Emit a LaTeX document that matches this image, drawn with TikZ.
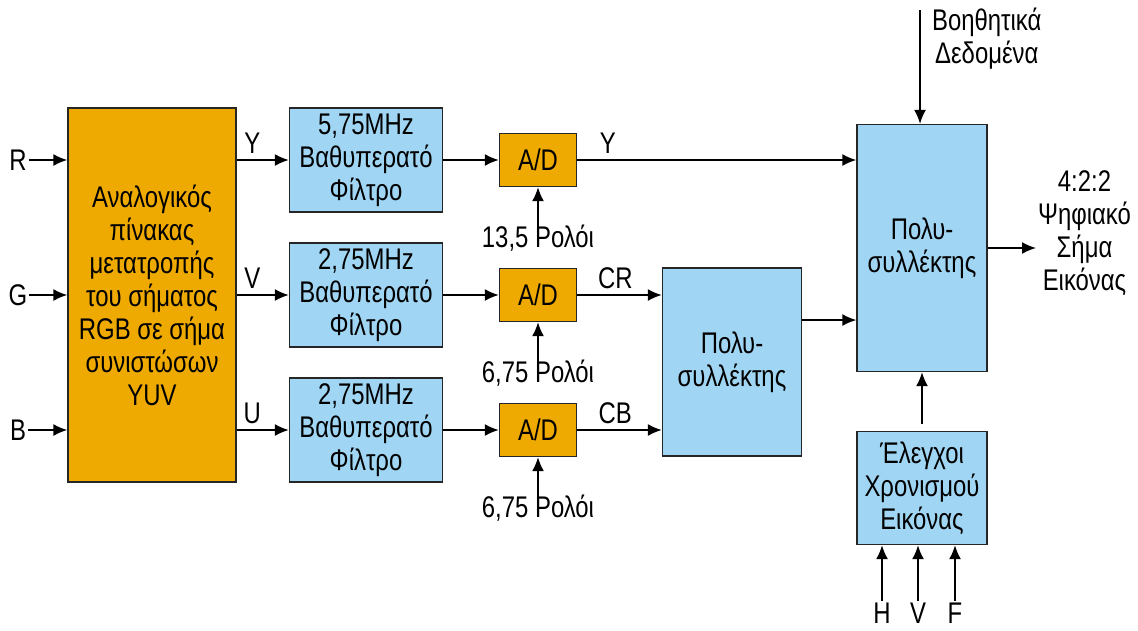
\documentclass[tikz,border=0pt]{standalone}
\usepackage{fontspec}
\setmainfont[FakeStretch=0.8]{Liberation Sans}
\usepackage{xcolor}
\usetikzlibrary{arrows.meta,positioning,calc}
\definecolor{adorange}{RGB}{238,170,0}
\definecolor{muxblue}{RGB}{160,214,244}

\begin{document}
\begin{tikzpicture}[
    x=0.02cm, y=-0.02cm,
    font=\fontsize{17}{18.8}\selectfont,
    orangebox/.style={draw=black!85, line width=0.8pt, fill=adorange, align=center, inner sep=1pt},
    bluebox/.style={draw=black!85, line width=0.8pt, fill=muxblue, align=center, inner sep=1pt},
    arrow/.style={-{Latex[length=2.8mm, width=2.4mm]}, line width=0.9pt},
    lbl/.style={inner sep=1pt, align=center}
  ]
    \useasboundingbox (0,0) rectangle (1138,630);
    \node[orangebox, minimum width=3.36cm, minimum height=7.48cm] (conv) at (152,295)
      {Αναλογικός\\πίνακας\\μετατροπής\\του σήματος\\RGB σε σήμα\\συνιστώσων\\YUV};
    \foreach \i/\y/\c/\s/\f/\k in {1/160/R/Y/{5,75MHz}/{13,5},2/295/G/V/{2,75MHz}/{6,75},3/430/B/U/{2,75MHz}/{6,75}} {
      \node[lbl] (in\i) at (18,\y) {\c};
      \draw[arrow] (in\i.east) -- (in\i -| conv.west);
      \node[bluebox, minimum width=3.06cm, minimum height=2.08cm] (f\i) at (366,\y)
        {\f\\Βαθυπερατό\\Φίλτρο};
      \draw[arrow] (conv.east |- f\i) -- (f\i.west) node[lbl, pos=0.3, above=2pt] {\s};
      \node[orangebox, minimum width=1.54cm, minimum height=1.06cm] (ad\i) at (538,\y) {A/D};
      \draw[arrow] (f\i.east) -- (ad\i.west);
      \node[lbl] (clk\i) at (538,\y+78) {\k\ Ρολόι};
      \draw[arrow] ([yshift=-0.1cm]clk\i.north) -- (ad\i.south);
    }
    \node[bluebox, minimum width=2.78cm, minimum height=3.76cm] (mux1) at (732,362) {Πολυ-\\συλλέκτης};
    \node[bluebox, minimum width=2.6cm, minimum height=4.94cm] (mux2) at (922,248) {Πολυ-\\συλλέκτης};
    \node[bluebox, minimum width=2.6cm, minimum height=2.26cm] (ctrl) at (922,488) {Έλεγχοι\\Χρονισμού\\Εικόνας};
    \draw[arrow] (ad1.east) -- (ad1 -| mux2.west) node[lbl, pos=0.11, above=2pt] {Y};
    \draw[arrow] (ad2.east) -- (ad2 -| mux1.west) node[lbl, pos=0.45, above=2pt] {CR};
    \draw[arrow] (ad3.east) -- (ad3 -| mux1.west) node[lbl, pos=0.45, above=2pt] {CB};
    \draw[arrow] ([yshift=0.84cm]mux1.east) -- ([yshift=0.84cm]mux1.east -| mux2.west);
    \coordinate (auxin) at (920,10);
    \node[lbl, anchor=north west] (aux) at (930,6) {Βοηθητικά\\Δεδομένα};
    \draw[arrow] (auxin) -- (auxin |- mux2.north);
    \node[lbl, anchor=west] (out) at (1036,233) {4:2:2\\Ψηφιακό\\Σήμα\\Εικόνας};
    \draw[arrow] (mux2.east) -- (out.west |- mux2.east);
    \draw[arrow] ([yshift=0.14cm]ctrl.north) -- (mux2.south);
    \foreach \n/\x in {H/882,V/918,F/955} {
      \node[lbl] (t\n) at (\x,613) {\n};
      \draw[arrow] (t\n.north) -- (t\n.north |- ctrl.south);
    }
  \end{tikzpicture}
\end{document}
